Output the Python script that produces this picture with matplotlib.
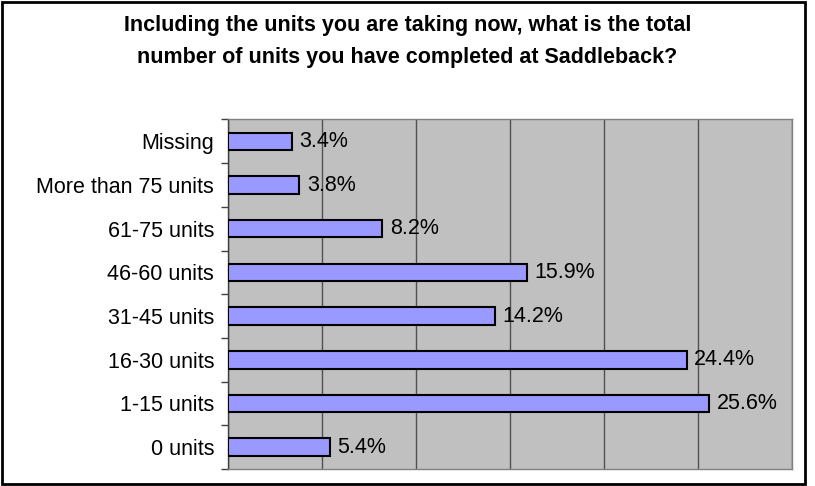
import matplotlib.pyplot as plt
from matplotlib.patches import Rectangle
from matplotlib.ticker import MultipleLocator, FixedLocator

plt.rcParams['font.family'] = ['Liberation Sans', 'DejaVu Sans']

categories = ["0 units", "1-15 units", "16-30 units", "31-45 units",
              "46-60 units", "61-75 units", "More than 75 units", "Missing"]
values = [5.4, 25.6, 24.4, 14.2, 15.9, 8.2, 3.8, 3.4]

fig = plt.figure(figsize=(8.15, 4.86), dpi=100)
ax = fig.add_axes([228/815, 1 - 469/486, (792 - 228)/815, (469 - 119.5)/486])

ypos = list(range(len(categories)))
bars = ax.barh(ypos, values, height=0.4, color="#9999FF", edgecolor="black",
               linewidth=1.5, zorder=3)

for y, v in zip(ypos, values):
    ax.text(v + 0.4, y, f"{v}%", ha="left", va="center", fontsize=15.5, zorder=4)

ax.set_facecolor("#C0C0C0")
ax.set_xlim(0, 30)
ax.set_ylim(-0.5, len(categories) - 0.5)
ax.xaxis.set_major_locator(MultipleLocator(5))
ax.grid(axis="x", color="#505050", linewidth=1, zorder=1)
ax.set_xticklabels([])
ax.tick_params(axis="x", length=0)

ax.set_yticks(ypos)
ax.set_yticklabels(categories, fontsize=15.5)
ax.tick_params(axis="y", which="major", length=0, pad=10)
ax.yaxis.set_minor_locator(FixedLocator([y - 0.5 for y in range(len(categories) + 1)]))
ax.tick_params(axis="y", which="minor", length=5, width=1, color="#404040", direction="out")

for side in ["top", "right", "bottom"]:
    ax.spines[side].set_color("#808080")
    ax.spines[side].set_linewidth(1)
ax.spines["left"].set_color("#404040")
ax.spines["left"].set_linewidth(1)

fig.text(0.5, 1 - 25/486, "Including the units you are taking now, what is the total",
         ha="center", va="center", fontsize=15.5, fontweight="bold")
fig.text(0.5, 1 - 57/486, "number of units you have completed at Saddleback?",
         ha="center", va="center", fontsize=15.5, fontweight="bold")

fig.patches.append(Rectangle((2/815, 1 - 484/486), (805 - 2)/815, (484 - 2)/486,
                             transform=fig.transFigure, fill=False,
                             edgecolor="black", linewidth=2))

fig.savefig("out.png", dpi=100)
